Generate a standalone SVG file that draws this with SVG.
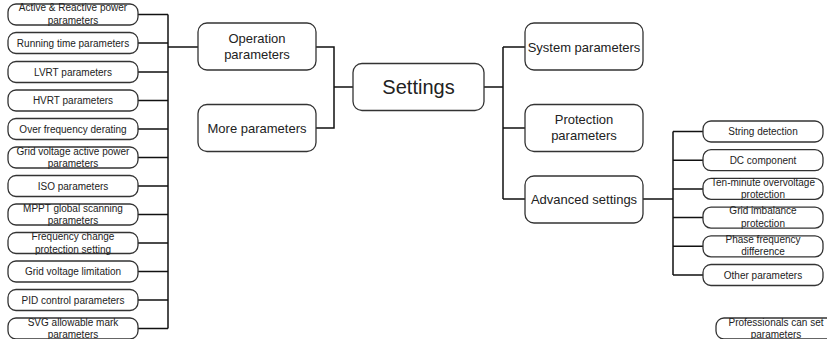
<svg xmlns="http://www.w3.org/2000/svg" width="827" height="339" viewBox="0 0 827 339">
<style>
.box{fill:#fff;stroke:#333;stroke-width:1.3}
.s{font-family:"Liberation Sans",Arial,sans-serif;font-size:10px;fill:#222;text-anchor:middle}
.m{font-family:"Liberation Sans",Arial,sans-serif;font-size:13px;fill:#222;text-anchor:middle}
.l{font-family:"Liberation Sans",Arial,sans-serif;font-size:20px;fill:#222;text-anchor:middle}
.c{fill:none;stroke:#111;stroke-width:1.5}
</style>
<rect width="827" height="339" fill="#fff"/>
<g id="connectors" class="c">
<path d="M168 14.5V328.5"/>
<path d="M138 14.5H168M138 43H168M138 72H168M138 100.5H168M138 129H168M138 157.5H168M138 186H168M138 214.5H168M138 243H168M138 271.5H168M138 300H168M138 328.5H168"/>
<path d="M168 47H198"/>
<path d="M316 47H334V128H316M334 87H353"/>
<path d="M484 87H503M503 47V199M503 47H525M503 128H525M503 199H525"/>
<path d="M643 199H673M673 131.5V275M673 131.5H703M673 160.2H703M673 188.9H703M673 217.6H703M673 246.3H703M673 275H703"/>
</g>
<g id="n-active"><rect class="box" x="8" y="4" width="130" height="21" rx="8"/><text class="s" x="73" y="10.5">Active &amp; Reactive power</text><text class="s" x="73" y="24">parameters</text></g>
<g id="n-running"><rect class="box" x="8" y="32.5" width="130" height="21" rx="8"/><text class="s" x="73" y="46.5">Running time parameters</text></g>
<g id="n-lvrt"><rect class="box" x="8" y="61.5" width="130" height="21" rx="8"/><text class="s" x="73" y="75.5">LVRT parameters</text></g>
<g id="n-hvrt"><rect class="box" x="8" y="90" width="130" height="21" rx="8"/><text class="s" x="73" y="104">HVRT parameters</text></g>
<g id="n-overfreq"><rect class="box" x="8" y="118.5" width="130" height="21" rx="8"/><text class="s" x="73" y="132.5">Over frequency derating</text></g>
<g id="n-gridactive"><rect class="box" x="8" y="147" width="130" height="21" rx="8"/><text class="s" x="73" y="154.5">Grid voltage active power</text><text class="s" x="73" y="167">parameters</text></g>
<g id="n-iso"><rect class="box" x="8" y="175.5" width="130" height="21" rx="8"/><text class="s" x="73" y="189.5">ISO parameters</text></g>
<g id="n-mppt"><rect class="box" x="8" y="204" width="130" height="21" rx="8"/><text class="s" x="73" y="211.5">MPPT global scanning</text><text class="s" x="73" y="224">parameters</text></g>
<g id="n-freqchange"><rect class="box" x="8" y="232.5" width="130" height="21" rx="8"/><text class="s" x="73" y="240">Frequency change</text><text class="s" x="73" y="252.5">protection setting</text></g>
<g id="n-gridlimit"><rect class="box" x="8" y="261" width="130" height="21" rx="8"/><text class="s" x="73" y="275">Grid voltage limitation</text></g>
<g id="n-pid"><rect class="box" x="8" y="289.5" width="130" height="21" rx="8"/><text class="s" x="73" y="303.5">PID control parameters</text></g>
<g id="n-svg"><rect class="box" x="8" y="318" width="130" height="21" rx="8"/><text class="s" x="73" y="325.5">SVG allowable mark</text><text class="s" x="73" y="338">parameters</text></g>
<g id="n-operation"><rect class="box" x="198" y="23" width="118" height="47" rx="9"/><text class="m" x="257" y="43">Operation</text><text class="m" x="257" y="59">parameters</text></g>
<g id="n-more"><rect class="box" x="198" y="104.5" width="118" height="47" rx="9"/><text class="m" x="257" y="132.5">More parameters</text></g>
<g id="n-settings"><rect class="box" x="353" y="63.5" width="131" height="47" rx="9"/><text class="l" x="418.5" y="94">Settings</text></g>
<g id="n-system"><rect class="box" x="525" y="23" width="118" height="47" rx="9"/><text class="m" x="584" y="51.5">System parameters</text></g>
<g id="n-protection"><rect class="box" x="525" y="104.5" width="118" height="47" rx="9"/><text class="m" x="584" y="124">Protection</text><text class="m" x="584" y="140">parameters</text></g>
<g id="n-advanced"><rect class="box" x="525" y="176" width="118" height="47" rx="9"/><text class="m" x="584" y="203.5">Advanced settings</text></g>
<g id="n-string"><rect class="box" x="703" y="121" width="120" height="21" rx="8"/><text class="s" x="763" y="135">String detection</text></g>
<g id="n-dc"><rect class="box" x="703" y="149.7" width="120" height="21" rx="8"/><text class="s" x="763" y="163.7">DC component</text></g>
<g id="n-tenmin"><rect class="box" x="703" y="178.4" width="120" height="21" rx="8"/><text class="s" x="763" y="185.5">Ten-minute overvoltage</text><text class="s" x="763" y="198">protection</text></g>
<g id="n-imbalance"><rect class="box" x="703" y="207.1" width="120" height="21" rx="8"/><text class="s" x="763" y="214">Grid imbalance</text><text class="s" x="763" y="226.5">protection</text></g>
<g id="n-phase"><rect class="box" x="703" y="235.8" width="120" height="21" rx="8"/><text class="s" x="763" y="242.5">Phase frequency</text><text class="s" x="763" y="255">difference</text></g>
<g id="n-other"><rect class="box" x="703" y="264.5" width="120" height="21" rx="8"/><text class="s" x="763" y="278.5">Other parameters</text></g>
<g id="n-professionals"><rect class="box" x="716" y="318" width="120" height="21" rx="8"/><text class="s" x="776" y="325.5">Professionals can set</text><text class="s" x="776" y="338">parameters</text></g>
</svg>
